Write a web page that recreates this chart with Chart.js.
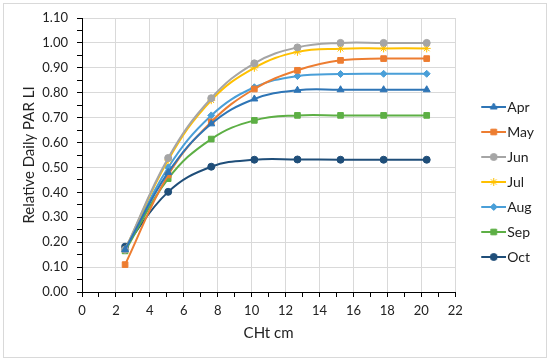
<!DOCTYPE html>
<html>
<head>
<meta charset="utf-8">
<script src="https://cdn.jsdelivr.net/npm/chart.js@4/dist/chart.umd.min.js"></script>
<style>
  html, body { margin: 0; padding: 0; background: #ffffff; }
  #wrap { width: 550px; height: 362px; position: relative; }
</style>
</head>
<body>
<div id="wrap"><canvas id="c" width="550" height="362"></canvas></div>
<script>
// ---- data ----
const chtCm = [2.54, 5.08, 7.62, 10.16, 12.70, 15.24, 17.78, 20.32];
const months = ['Apr', 'May', 'Jun', 'Jul', 'Aug', 'Sep', 'Oct'];
const aprValues = [0.17, 0.48, 0.675, 0.775, 0.810, 0.812, 0.812, 0.812];
const mayValues = [0.11, 0.47, 0.683, 0.815, 0.890, 0.930, 0.937, 0.937];
const junValues = [0.17, 0.538, 0.778, 0.918, 0.982, 1.000, 1.000, 1.000];
const julValues = [0.17, 0.530, 0.770, 0.900, 0.964, 0.977, 0.978, 0.978];
const augValues = [0.17, 0.500, 0.709, 0.822, 0.867, 0.875, 0.876, 0.876];
const sepValues = [0.165, 0.455, 0.614, 0.689, 0.709, 0.709, 0.709, 0.709];
const octValues = [0.182, 0.402, 0.503, 0.531, 0.532, 0.531, 0.531, 0.531];
const xTickLabels = ['0','2','4','6','8','10','12','14','16','18','20','22'];
const yTickLabels = ['0.00','0.10','0.20','0.30','0.40','0.50','0.60','0.70','0.80','0.90','1.00','1.10'];
const xTitle = 'CHt cm';
const yTitle = 'Relative Daily PAR LI';

// ---- styles ----
const seriesValues = [aprValues, mayValues, junValues, julValues, augValues, sepValues, octValues];
const colors = ['#2E75B6', '#ED7D31', '#A5A5A5', '#FFC000', '#4A9FD8', '#5DAF45', '#1F4E79'];
const markers = ['triangle', 'rect', 'circle', 'star', 'rectRot', 'rect', 'circle'];
const radii = [4, 4, 3.5, 4, 3.5, 4, 3.5];
const FONT = 'Lato, "Liberation Sans", sans-serif';

function legendImage(color, style, radius) {
  const cv = document.createElement('canvas');
  cv.width = 46; cv.height = 14;
  const c = cv.getContext('2d');
  c.strokeStyle = color; c.fillStyle = color; c.lineWidth = 2;
  c.beginPath(); c.moveTo(21, 7); c.lineTo(46, 7); c.stroke();
  c.lineWidth = 1;
  Chart.helpers.drawPoint(c, {pointStyle: style, radius: radius, rotation: 0, borderWidth: 1}, 33.5, 7);
  return cv;
}
const legendImgs = months.map((m, i) => legendImage(colors[i], markers[i], radii[i]));

const datasets = months.map((m, i) => ({
  label: m,
  data: chtCm.map((x, j) => ({x: x, y: seriesValues[i][j]})),
  borderColor: colors[i],
  backgroundColor: colors[i],
  pointBackgroundColor: colors[i],
  pointBorderColor: colors[i],
  pointStyle: markers[i],
  pointRadius: radii[i],
  pointBorderWidth: 1,
  borderWidth: 2,
  tension: 0.4,
  fill: false
}));

const frame = {
  id: 'frame',
  beforeDraw(chart) {
    const ctx = chart.ctx;
    ctx.save();
    ctx.fillStyle = '#ffffff';
    ctx.fillRect(0, 0, chart.width, chart.height);
    ctx.strokeStyle = '#d9d9d9';
    ctx.lineWidth = 1;
    ctx.strokeRect(3.5, 3.5, 543, 354);
    ctx.restore();
  }
};

const isMajorX = v => Math.abs(v % 2) < 1e-9;
const isMajorY = v => Math.round(v * 100) % 10 === 0;

new Chart(document.getElementById('c'), {
  type: 'line',
  data: { datasets: datasets },
  plugins: [frame],
  options: {
    responsive: false,
    animation: false,
    layout: { padding: { left: 16, top: 18, bottom: 16, right: 6 } },
    plugins: {
      tooltip: { enabled: false },
      legend: {
        position: 'right',
        align: 'center',
        labels: {
          usePointStyle: true,
          pointStyleWidth: 34,
          padding: 11,
          color: '#222',
          font: { family: FONT, size: 14 },
          generateLabels(chart) {
            const items = Chart.defaults.plugins.legend.labels.generateLabels(chart);
            items.forEach((it, i) => { it.pointStyle = legendImgs[i]; });
            return items;
          }
        }
      }
    },
    scales: {
      x: {
        type: 'linear',
        min: 0, max: 22,
        afterFit: s => { s.height = 54; },
        ticks: {
          stepSize: 1, autoSkip: false, maxRotation: 0, padding: 6,
          color: '#222', font: { family: FONT, size: 13 },
          callback: v => isMajorX(v) ? xTickLabels[Math.round(v / 2)] : ''
        },
        grid: {
          color: c => (c.tick && isMajorX(c.tick.value)) ? '#d9d9d9' : 'rgba(0,0,0,0)',
          tickColor: '#000', tickLength: 5, lineWidth: 1
        },
        border: { color: '#000', width: 1 },
        title: { display: true, text: xTitle, color: '#222', font: { family: FONT, size: 15 }, padding: { top: 2, bottom: 4 } }
      },
      y: {
        type: 'linear',
        min: 0, max: 1.1,
        afterFit: s => { s.width = 66; },
        ticks: {
          stepSize: 0.05, autoSkip: false, padding: 9,
          color: '#222', font: { family: FONT, size: 13 },
          callback: v => isMajorY(v) ? yTickLabels[Math.round(v * 10)] : ''
        },
        grid: {
          color: c => (c.tick && isMajorY(c.tick.value)) ? '#d9d9d9' : 'rgba(0,0,0,0)',
          tickColor: '#000', tickLength: 5, lineWidth: 1
        },
        border: { color: '#000', width: 1 },
        title: { display: true, text: yTitle, color: '#222', font: { family: FONT, size: 15 }, padding: { top: 4, bottom: 4 } }
      }
    }
  }
});
</script>
</body>
</html>
